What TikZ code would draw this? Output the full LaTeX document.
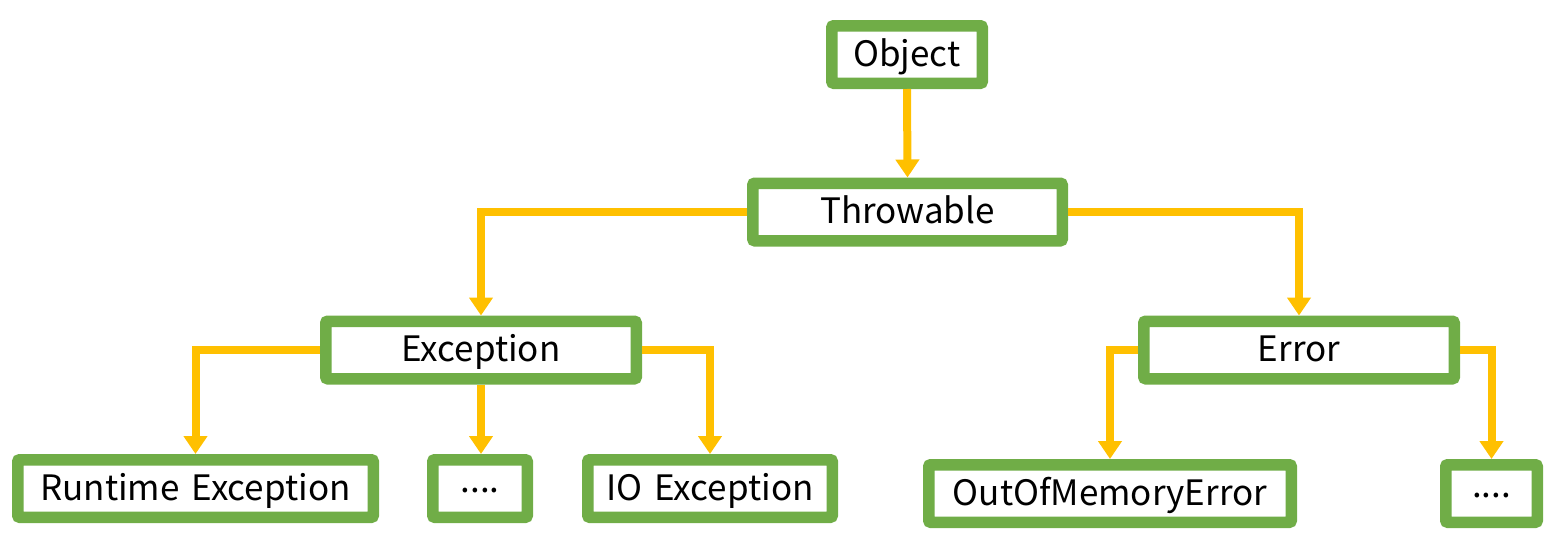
\documentclass[tikz,border=0pt]{standalone}
\usepackage{fontspec}
\setmainfont{Noto Sans CJK KR}
\usetikzlibrary{arrows.meta}
\definecolor{boxgreen}{HTML}{70AD47}
\definecolor{arrorange}{HTML}{FFC000}
\tikzset{
  box/.style={draw=boxgreen, line width=11.5pt, rounded corners=2pt, fill=white,
    minimum height=57.5pt, inner sep=0pt, align=center,
    text height=29pt, text depth=6pt,
    font=\fontsize{35}{40}\selectfont},
  arr/.style={draw=arrorange, line width=8pt, line join=miter,
    -{Triangle[width=23pt,length=18pt]}}
}
\newcommand{\wsp}{\hspace{0.34em}}
\newcommand{\dotsrow}{\raisebox{8pt}{....}}
\begin{document}
\begin{tikzpicture}[x=1pt,y=1pt]
\useasboundingbox (0,0) rectangle (1563,-546);
\node[box, minimum width=150.5pt] (obj) at (907,-54.5) {Object};
\node[box, minimum width=309.5pt] (thr) at (907.5,-212) {Throwable};
\node[box, minimum width=310.5pt] (exc) at (481,-350) {Exception};
\node[box, minimum width=310.5pt] (err) at (1299,-350) {Error};
\node[box, minimum width=355.5pt] (rt) at (195.5,-488.5) {Runtime\wsp Exception};
\node[box, minimum width=94.5pt] (dl) at (480,-488.5) {\dotsrow};
\node[box, minimum width=244.5pt] (io) at (710,-488.5) {IO\wsp Exception};
\node[box, minimum width=362.5pt] (oom) at (1110,-493.5) {OutOfMemoryError};
\node[box, minimum width=91.5pt] (dr) at (1491.5,-493.5) {\dotsrow};
\draw[arr] (obj.south) -- (thr.north);
\draw[arr] (thr.west) -| (exc.north);
\draw[arr] (thr.east) -| (err.north);
\draw[arr] (exc.west) -| (rt.north);
\draw[arr] (exc.south) -- (exc.south |- dl.north);
\draw[arr] (exc.east) -| (io.north);
\draw[arr] (err.west) -| (oom.north);
\draw[arr] (err.east) -| (dr.north);
\end{tikzpicture}
\end{document}
